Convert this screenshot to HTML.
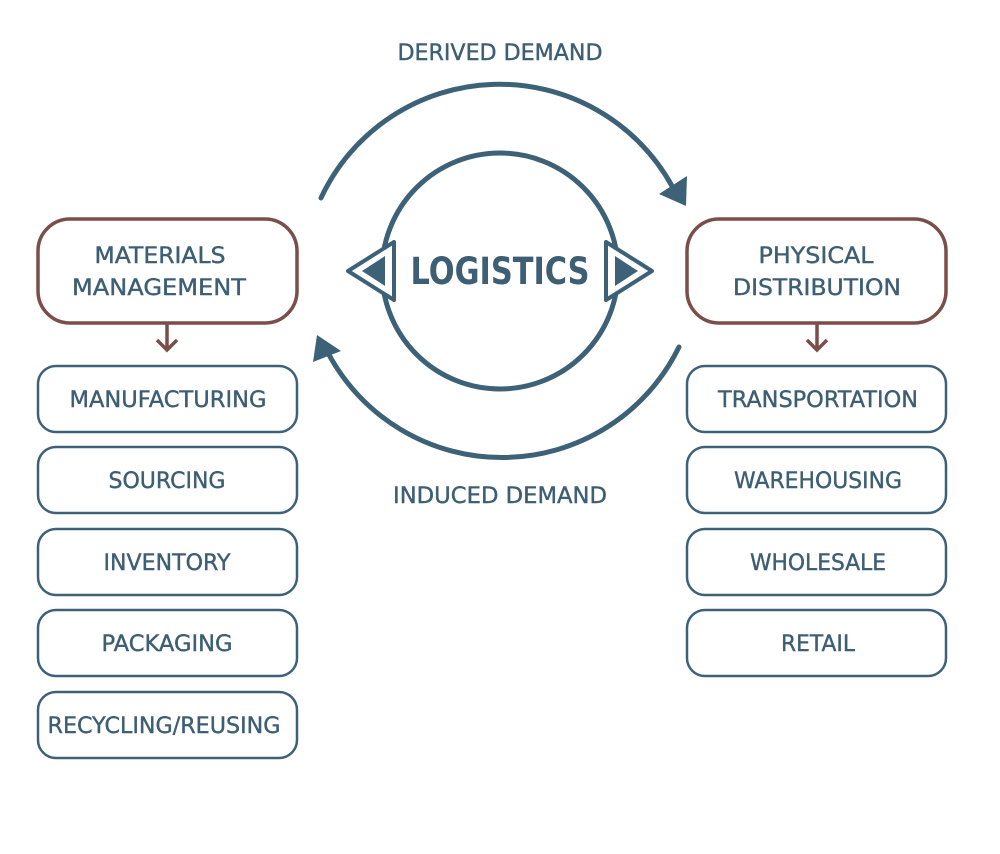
<!DOCTYPE html>
<html><head><meta charset="utf-8"><style>html,body{margin:0;padding:0;background:#fff}</style></head>
<body>
<svg width="1000" height="849" viewBox="0 0 1000 849" xmlns="http://www.w3.org/2000/svg" font-family="'DejaVu Sans','Liberation Sans',sans-serif" fill="#3d5e73">
<g fill="none" stroke="#3d6278" stroke-width="5" stroke-linecap="round">
<circle cx="500" cy="271" r="118"/>
<path d="M321 198 A197 197 0 0 1 672 186"/>
<path d="M679 347 A197 197 0 0 1 327 351"/>
</g>
<polygon points="659,194 687,176 686,206" fill="#3d6278"/>
<polygon points="313,362 317,335 341,351" fill="#3d6278"/>
<g stroke="#3d6278" stroke-width="4" stroke-linejoin="round">
<polygon points="348,271 394,242 394,300" fill="#fff"/>
<polygon points="652,271 606,242 606,300" fill="#fff"/>
</g>
<polygon points="362,271 385,256 385,286" fill="#3d6278"/>
<polygon points="638,271 615,256 615,286" fill="#3d6278"/>
<text x="500" y="284" font-size="37" font-weight="bold" text-anchor="middle" textLength="179" lengthAdjust="spacingAndGlyphs">LOGISTICS</text>
<g font-size="22" text-anchor="middle" stroke="#3d5e73" stroke-width="0.4">
<text x="500" y="60" textLength="205" lengthAdjust="spacingAndGlyphs">DERIVED DEMAND</text>
<text x="500" y="503" textLength="214" lengthAdjust="spacingAndGlyphs">INDUCED DEMAND</text>
</g>
<g fill="none" stroke="#7a4f49" stroke-width="3.5">
<rect x="38" y="219" width="259" height="104" rx="32"/>
<rect x="687" y="219" width="259" height="104" rx="32"/>
<path d="M167 323 V350 M157 340 L167 350 L177 340"/>
<path d="M817 323 V350 M807 340 L817 350 L827 340"/>
</g>
<g fill="none" stroke="#3d6278" stroke-width="2.5">
<rect x="38" y="366" width="259" height="66" rx="18"/>
<rect x="38" y="447" width="259" height="66" rx="18"/>
<rect x="38" y="529" width="259" height="66" rx="18"/>
<rect x="38" y="610" width="259" height="66" rx="18"/>
<rect x="38" y="692" width="259" height="66" rx="18"/>
<rect x="687" y="366" width="259" height="66" rx="18"/>
<rect x="687" y="447" width="259" height="66" rx="18"/>
<rect x="687" y="529" width="259" height="66" rx="18"/>
<rect x="687" y="610" width="259" height="66" rx="18"/>
</g>
<g font-size="22" text-anchor="middle" stroke="#3d5e73" stroke-width="0.4">
<text x="160" y="263" textLength="131" lengthAdjust="spacingAndGlyphs">MATERIALS</text>
<text x="159" y="295" textLength="174" lengthAdjust="spacingAndGlyphs">MANAGEMENT</text>
<text x="816" y="263" textLength="115" lengthAdjust="spacingAndGlyphs">PHYSICAL</text>
<text x="817" y="295" textLength="168" lengthAdjust="spacingAndGlyphs">DISTRIBUTION</text>
<text x="168" y="407" textLength="197" lengthAdjust="spacingAndGlyphs">MANUFACTURING</text>
<text x="167" y="488" textLength="117" lengthAdjust="spacingAndGlyphs">SOURCING</text>
<text x="167" y="570" textLength="127" lengthAdjust="spacingAndGlyphs">INVENTORY</text>
<text x="167" y="651" textLength="131" lengthAdjust="spacingAndGlyphs">PACKAGING</text>
<text x="164" y="733" textLength="233" lengthAdjust="spacingAndGlyphs">RECYCLING/REUSING</text>
<text x="818" y="407" textLength="200" lengthAdjust="spacingAndGlyphs">TRANSPORTATION</text>
<text x="818" y="488" textLength="168" lengthAdjust="spacingAndGlyphs">WAREHOUSING</text>
<text x="818" y="570" textLength="136" lengthAdjust="spacingAndGlyphs">WHOLESALE</text>
<text x="818" y="651" textLength="74" lengthAdjust="spacingAndGlyphs">RETAIL</text>
</g>
</svg>
</body></html>
